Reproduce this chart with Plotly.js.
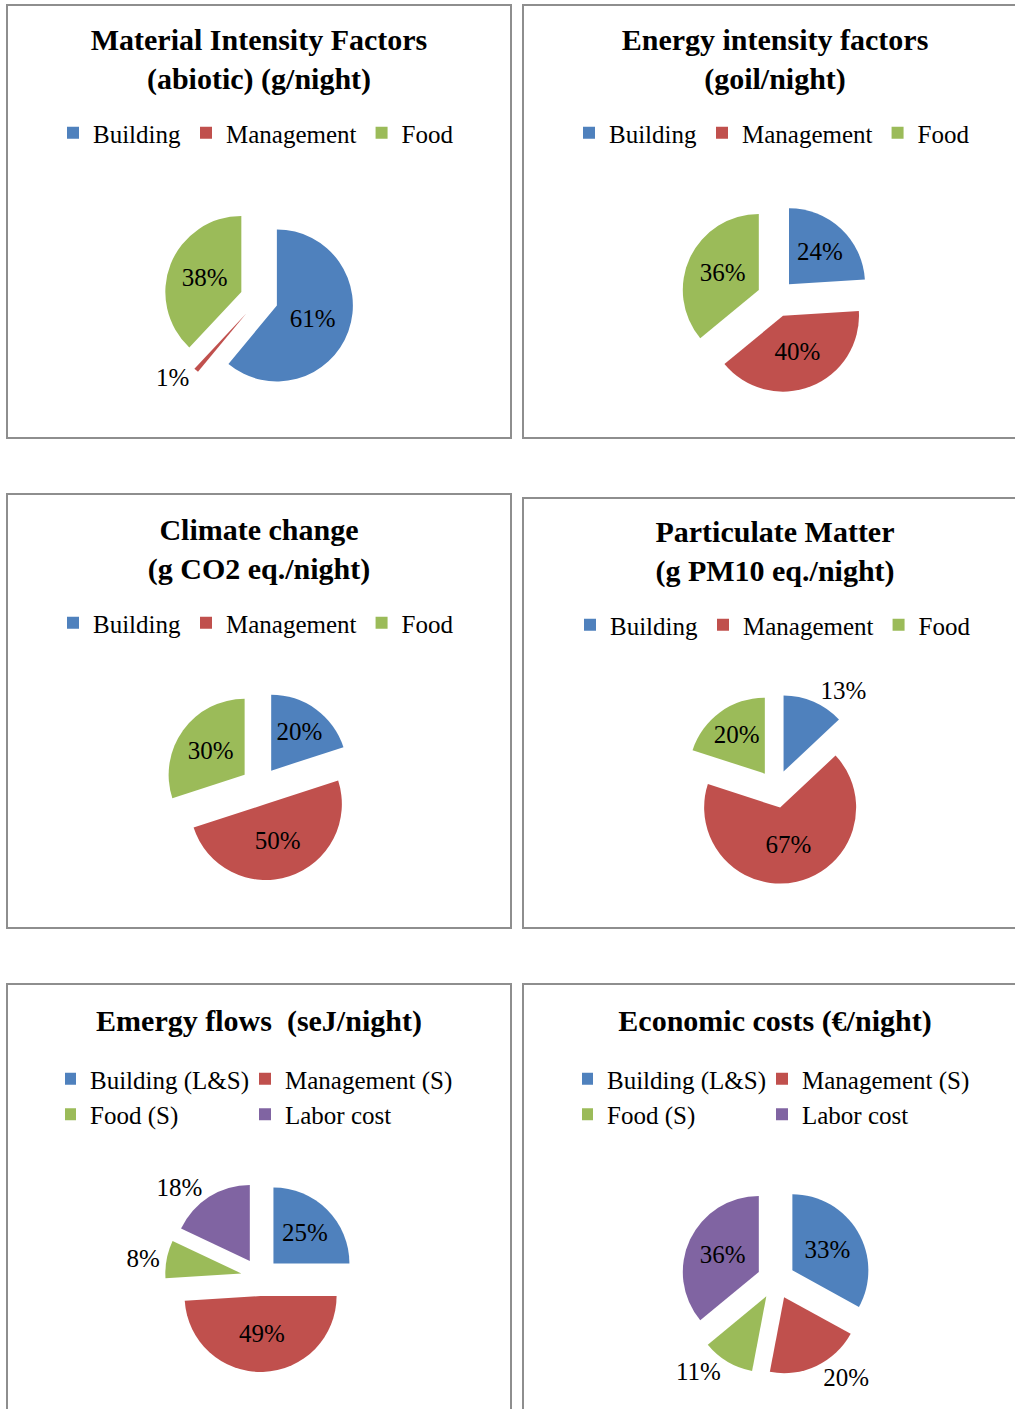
<!DOCTYPE html>
<html>
<head>
<meta charset="utf-8">
<script src="https://cdn.plot.ly/plotly-3.0.1.min.js"></script>
<style>
  html, body { margin: 0; padding: 0; width: 1015px; height: 1409px; overflow: hidden; background: #ffffff; }
  .panel { position: absolute; box-sizing: border-box; border: 2px solid #8e8e8e; background: #ffffff; overflow: hidden; }
</style>
</head>
<body>
<script>
// Category labels
const labelsBasic = ['Building', 'Management', 'Food'];
const labelsEmergy = ['Building (L&S)', 'Management (S)', 'Food (S)', 'Labor cost'];

// Shares per indicator (%)
const materialValues = [61, 1, 38];
const energyValues = [24, 40, 36];
const climateValues = [20, 50, 30];
const particulateValues = [13, 67, 20];
const emergyValues = [25, 49, 8, 18];
const economicValues = [33, 20, 11, 36];

// Chart titles
const titleMaterial = 'Material Intensity Factors<br>(abiotic) (g/night)';
const titleEnergy = 'Energy intensity factors<br>(goil/night)';
const titleClimate = 'Climate change<br>(g CO2 eq./night)';
const titleParticulate = 'Particulate Matter<br>(g PM10 eq./night)';
const titleEmergy = 'Emergy flows&nbsp; (seJ/night)';
const titleEconomic = 'Economic costs (€/night)';

// Slice colours
const sliceColors = ['#4F81BD', '#C0504D', '#9BBB59', '#8064A2'];

const FONT = 'Liberation Serif, "Times New Roman", Times, serif';
const TITLE_SIZE = 30;
const TEXT_SIZE = 25;

// Box placement and per-chart styling
const panels = [
  { left: 6,   top: 4,   w: 506, h: 435, cx: 251, cy: 293, titleBase: 45,   legendX: 45, legendTop: 104, indent: 0,
    labels: labelsBasic, values: materialValues, title: titleMaterial,
    textpos: ['inside', 'outside', 'inside'] },
  { left: 522, top: 4,   w: 506, h: 435, cx: 252, cy: 292, titleBase: 45,   legendX: 45, legendTop: 104, indent: 0,
    labels: labelsBasic, values: energyValues, title: titleEnergy,
    textpos: ['inside', 'inside', 'inside'] },
  { left: 6,   top: 493, w: 506, h: 436, cx: 252, cy: 291, titleBase: 46,   legendX: 45, legendTop: 105, indent: 0,
    labels: labelsBasic, values: climateValues, title: titleClimate,
    textpos: ['inside', 'inside', 'inside'] },
  { left: 522, top: 497, w: 506, h: 432, cx: 252, cy: 290, titleBase: 44.5, legendX: 46, legendTop: 103, indent: 0,
    labels: labelsBasic, values: particulateValues, title: titleParticulate,
    textpos: ['outside', 'inside', 'inside'] },
  { left: 6,   top: 983, w: 506, h: 436, cx: 252, cy: 292, titleBase: 46,   legendX: 57, legendTop: 71, indent: -15,
    labels: labelsEmergy, values: emergyValues, title: titleEmergy,
    textpos: ['inside', 'inside', 'outside', 'outside'], entrywidth: 165 },
  { left: 522, top: 983, w: 506, h: 436, cx: 252, cy: 295, titleBase: 46,   legendX: 58, legendTop: 71, indent: -15,
    labels: labelsEmergy, values: economicValues, title: titleEconomic,
    textpos: ['inside', 'outside', 'outside', 'inside'], entrywidth: 165 }
];

const PIE_HALF = 95;   // half of the pie box; radius = 95 / (1 + pull)
const PULL = 0.25;

panels.forEach(function (p, i) {
  const box = document.createElement('div');
  box.className = 'panel';
  box.style.left = p.left + 'px';
  box.style.top = p.top + 'px';
  box.style.width = p.w + 'px';
  box.style.height = p.h + 'px';
  document.body.appendChild(box);

  const W = p.w - 4, H = p.h - 4;
  const plot = document.createElement('div');
  plot.id = 'chart' + (i + 1);
  plot.style.width = W + 'px';
  plot.style.height = H + 'px';
  box.appendChild(plot);

  const trace = {
    type: 'pie',
    labels: p.labels,
    values: p.values,
    sort: false,
    direction: 'clockwise',
    rotation: 0,
    pull: PULL,
    marker: { colors: sliceColors.slice(0, p.labels.length), line: { width: 0 } },
    texttemplate: '%{value}%',
    textposition: p.textpos,
    insidetextorientation: 'horizontal',
    textfont: { family: FONT, size: TEXT_SIZE, color: '#000000' },
    insidetextfont: { family: FONT, size: TEXT_SIZE, color: '#000000' },
    outsidetextfont: { family: FONT, size: TEXT_SIZE, color: '#000000' },
    hoverinfo: 'skip',
    domain: {
      x: [(p.cx - PIE_HALF) / W, (p.cx + PIE_HALF) / W],
      y: [1 - (p.cy + PIE_HALF) / H, 1 - (p.cy - PIE_HALF) / H]
    }
  };

  const legend = {
    orientation: 'h',
    indentation: p.indent,
    x: p.legendX / W, xanchor: 'left',
    y: 1 - p.legendTop / H, yanchor: 'top',
    font: { family: FONT, size: TEXT_SIZE, color: '#000000' },
    bgcolor: 'rgba(0,0,0,0)',
    borderwidth: 0
  };
  if (p.entrywidth) { legend.entrywidth = p.entrywidth; legend.entrywidthmode = 'pixels'; }

  // multi-line titles are centred on their block, so shift the top down accordingly
  const nLines = p.title.split('<br>').length;
  const titleTop = p.titleBase - 0.7 * TITLE_SIZE + (nLines - 1) * 0.65 * TITLE_SIZE;

  const layout = {
    width: W, height: H,
    margin: { l: 0, r: 0, t: 0, b: 0, pad: 0 },
    paper_bgcolor: '#ffffff',
    plot_bgcolor: '#ffffff',
    showlegend: true,
    legend: legend,
    title: {
      text: p.title,
      x: 0.5, xanchor: 'center',
      y: 1 - titleTop / H, yanchor: 'top',
      font: { family: FONT, size: TITLE_SIZE, weight: 'bold', color: '#000000' }
    }
  };

  Plotly.newPlot(plot, [trace], layout, { staticPlot: true, displayModeBar: false });
});
</script>
</body>
</html>
